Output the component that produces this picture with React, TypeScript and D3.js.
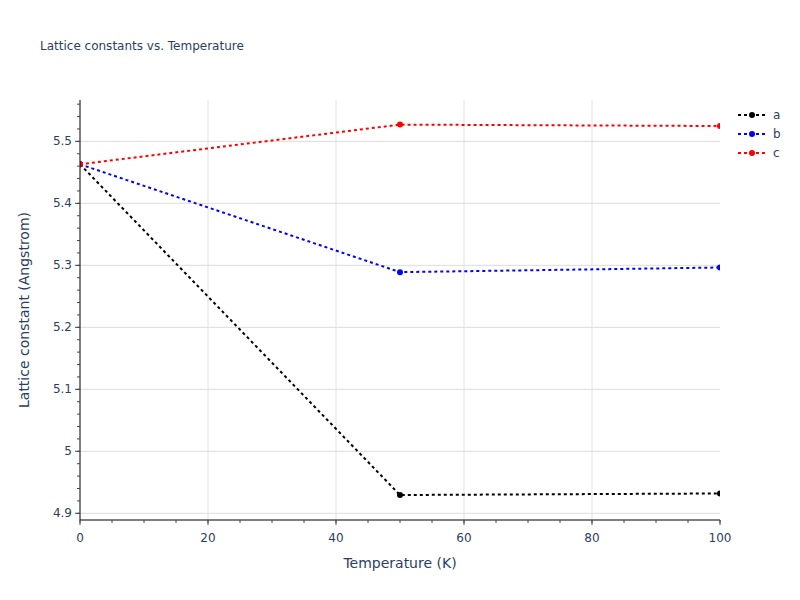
import React from "react";
import * as d3 from "d3";

const temperatures = [0, 50, 100];
const seriesNames = ["a", "b", "c"];
const seriesColors = ["black", "blue", "red"];
const aValues = [5.463, 4.9295, 4.932];
const bValues = [5.463, 5.289, 5.2965];
const cValues = [5.463, 5.527, 5.5247];
const xTicks = [0, 20, 40, 60, 80, 100];
const yTicks = [4.9, 5.0, 5.1, 5.2, 5.3, 5.4, 5.5];
const yTickLabels = ["4.9", "5", "5.1", "5.2", "5.3", "5.4", "5.5"];

const W = 800, H = 600;
const L = 80, R = 720, T = 100, B = 520;
const font = "'DejaVu Sans', Verdana, sans-serif";
const textColor = "#2a3f5f";

export default function App() {
  const x = d3.scaleLinear().domain([0, 100]).range([L, R]);
  const y = d3.scaleLinear().domain([4.8892, 5.5667]).range([B, T]);
  const all = [aValues, bValues, cValues];
  const line = d3
    .line<number>()
    .x((_, i) => x(temperatures[i]))
    .y((d) => y(d));
  const xMinor = d3.range(0, 100.001, 5);
  const yMinor = d3.range(4.9, 5.5601, 0.02).filter((v) => y(v) >= T);

  return (
    <svg width={W} height={H} style={{ display: "block", position: "absolute", left: 0, top: 0 }}>
      <rect width={W} height={H} fill="white" />
      <defs>
        <clipPath id="plot">
          <rect x={L} y={T} width={R - L} height={B - T} />
        </clipPath>
      </defs>
      <text x={40} y={50} fontFamily={font} fontSize={12} fill={textColor}>
        Lattice constants vs. Temperature
      </text>
      {/* grid */}
      {xTicks.filter((t) => t > 0 && t < 100).map((t) => (
        <line key={"gx" + t} x1={x(t)} x2={x(t)} y1={T} y2={B} stroke="#e2e2e2" strokeWidth={1} />
      ))}
      {yTicks.map((t) => (
        <line key={"gy" + t} x1={L} x2={R} y1={y(t)} y2={y(t)} stroke="#dcdcdc" strokeWidth={1} />
      ))}
      {/* series */}
      <g clipPath="url(#plot)">
        {all.map((vals, si) => (
          <g key={seriesNames[si]}>
            <path d={line(vals) || ""} fill="none" stroke={seriesColors[si]} strokeWidth={2} strokeDasharray="3,3" />
            {vals.map((v, i) => (
              <circle key={i} cx={x(temperatures[i])} cy={y(v)} r={3} fill={seriesColors[si]} />
            ))}
          </g>
        ))}
      </g>
      {/* axes */}
      <line x1={L} x2={R} y1={B} y2={B} stroke="black" strokeWidth={1} />
      <line x1={L} x2={L} y1={T} y2={B} stroke="black" strokeWidth={1} />
      {xMinor.map((t) => (
        <line key={"xm" + t} x1={x(t)} x2={x(t)} y1={B} y2={B + 3} stroke="#444" strokeWidth={1} />
      ))}
      {xTicks.map((t) => (
        <g key={"xt" + t}>
          <line x1={x(t)} x2={x(t)} y1={B} y2={B + 5} stroke="#444" strokeWidth={1} />
          <text x={x(t)} y={B + 22} textAnchor="middle" fontFamily={font} fontSize={12} fill={textColor}>
            {t}
          </text>
        </g>
      ))}
      {yMinor.map((t) => (
        <line key={"ym" + t} x1={L - 3} x2={L} y1={y(t)} y2={y(t)} stroke="#444" strokeWidth={1} />
      ))}
      {yTicks.map((t, i) => (
        <g key={"yt" + t}>
          <line x1={L - 5} x2={L} y1={y(t)} y2={y(t)} stroke="#444" strokeWidth={1} />
          <text x={L - 8} y={y(t) + 4} textAnchor="end" fontFamily={font} fontSize={12} fill={textColor}>
            {yTickLabels[i]}
          </text>
        </g>
      ))}
      <text x={(L + R) / 2} y={568} textAnchor="middle" fontFamily={font} fontSize={14} fill={textColor}>
        Temperature (K)
      </text>
      <text
        transform={`translate(29,${(T + B) / 2}) rotate(-90)`}
        textAnchor="middle"
        fontFamily={font}
        fontSize={14}
        fill={textColor}
      >
        Lattice constant (Angstrom)
      </text>
      {/* legend */}
      {seriesNames.map((n, i) => {
        const ly = 115 + i * 19;
        return (
          <g key={"lg" + n}>
            <line x1={738} x2={766} y1={ly} y2={ly} stroke={seriesColors[i]} strokeWidth={2} strokeDasharray="3,3" />
            <circle cx={752} cy={ly} r={3} fill={seriesColors[i]} />
            <text x={773} y={ly + 4} fontFamily={font} fontSize={12} fill={textColor}>
              {n}
            </text>
          </g>
        );
      })}
    </svg>
  );
}
